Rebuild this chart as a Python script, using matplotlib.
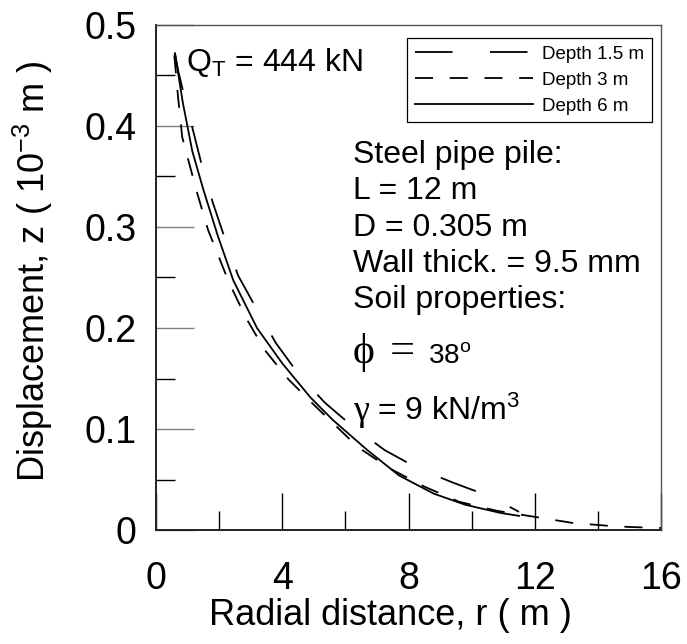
import matplotlib
matplotlib.use('Agg')
import matplotlib.pyplot as plt
from matplotlib.ticker import FixedLocator, FixedFormatter

plt.rcParams['font.family'] = ['Liberation Sans', 'DejaVu Sans']
plt.rcParams['mathtext.fontset'] = 'custom'
plt.rcParams['mathtext.rm'] = 'Liberation Sans'
plt.rcParams['mathtext.it'] = 'Liberation Sans:italic'
plt.rcParams['mathtext.bf'] = 'Liberation Sans:bold'
plt.rcParams['lines.scale_dashes'] = False

# ground displacement z (1e-3 m) vs radial distance r (m), pile head load 444 kN
r_d15 = [0.6, 0.7, 0.86, 1.17, 1.46, 1.8, 2.2, 2.6, 3.2, 3.8, 4.5, 5.35, 6.25,
         7.25, 8.3, 9.4, 10.6, 11.5]
z_d15 = [0.472, 0.455, 0.434, 0.396, 0.36, 0.324, 0.287, 0.252, 0.218, 0.185,
         0.155, 0.126, 0.102, 0.079, 0.061, 0.047, 0.033, 0.018]

r_d3 = [0.58, 0.7, 0.83, 1.0, 1.3, 1.65, 2.3, 2.85, 3.45, 4.2, 5.0, 6.4, 7.4,
        8.5, 9.6, 10.8, 12.0, 13.2, 14.4, 15.0, 16.0]
z_d3 = [0.47, 0.428, 0.389, 0.369, 0.334, 0.297, 0.246, 0.21, 0.178, 0.149,
        0.124, 0.082, 0.061, 0.043, 0.028, 0.019, 0.013, 0.007, 0.004, 0.003,
        0.002]

r_d6 = [0.6, 0.85, 1.15, 1.5, 1.95, 2.45, 3.2, 4.0, 4.9, 5.6, 6.7, 7.7, 8.8,
        9.8, 10.9, 11.5]
z_d6 = [0.472, 0.423, 0.375, 0.337, 0.292, 0.247, 0.2, 0.165, 0.131, 0.109,
        0.079, 0.054, 0.036, 0.025, 0.017, 0.014]

x_major = [0, 4, 8, 12, 16]
x_minor = [2, 6, 10, 14]
y_major = [0, 0.1, 0.2, 0.3, 0.4, 0.5]
y_minor = [0.05, 0.15, 0.25, 0.35, 0.45]
y_labels = ['0', '0.1', '0.2', '0.3', '0.4', '0.5']

pile_info = ['Steel pipe pile:', 'L = 12 m', 'D = 0.305 m',
             'Wall thick. = 9.5 mm', 'Soil properties:']

fig = plt.figure(figsize=(6.87, 6.44), dpi=100)
ax = fig.add_axes([0.2271, 0.177, 0.7351, 0.7842])

ax.plot(r_d15, z_d15, color='k', lw=1.3, dashes=(27, 27), label='Depth 1.5 m')
ax.plot(r_d3, z_d3, color='k', lw=1.3, dashes=(13, 12), label='Depth 3 m')
ax.plot(r_d6, z_d6, color='k', lw=1.3, label='Depth 6 m')

ax.set_xlim(0, 16)
ax.set_ylim(0, 0.5)
ax.xaxis.set_major_locator(FixedLocator(x_major))
ax.xaxis.set_minor_locator(FixedLocator(x_minor))
ax.yaxis.set_major_locator(FixedLocator(y_major))
ax.yaxis.set_minor_locator(FixedLocator(y_minor))
ax.yaxis.set_major_formatter(FixedFormatter(y_labels))

ax.tick_params(which='both', direction='in', width=1, labelsize=27)
ax.tick_params(which='major', length=27)
ax.tick_params(which='minor', length=13.5)
ax.tick_params(axis='x', pad=22)
ax.tick_params(axis='y', pad=14)
ax.tick_params(axis='y', which='major', color='#808080')

for side in ['left', 'bottom']:
    ax.spines[side].set_linewidth(1.4)
    ax.spines[side].set_color('#222222')
for side in ['top', 'right']:
    ax.spines[side].set_linewidth(1.0)
    ax.spines[side].set_color('#555555')

ax.set_xlabel('Radial distance, r ( m )', fontsize=26)
ax.xaxis.set_label_coords(0.465, -0.135)
ax.set_ylabel(r'Displacement, z ( 10$^{\mathregular{-3}}$ m )', fontsize=26)
ax.yaxis.set_label_coords(-0.2, 0.513)

ax.text(0.059, 0.909, r'Q$_\mathregular{T}$ = 444 kN', fontsize=23,
        va='baseline', transform=ax.transAxes)

for i, line in enumerate(pile_info):
    ax.text(0.39, 0.7267 - i * 0.0719, line, fontsize=23, va='baseline',
            transform=ax.transAxes)

# friction angle and unit weight
ax.text(0.39, 0.3307, '\u03d5', fontsize=30, family='Liberation Serif',
        va='baseline', transform=ax.transAxes)
ax.text(0.463, 0.3307, '=', fontsize=32, family='Liberation Serif',
        va='baseline', transform=ax.transAxes)
ax.text(0.5386, 0.3307, r'38$^\mathregular{o}$', fontsize=20, va='baseline',
        transform=ax.transAxes)
ax.text(0.39, 0.2178, '\u03b3', fontsize=26, family='Liberation Serif',
        va='baseline', transform=ax.transAxes)
ax.text(0.4376, 0.2178, r'= 9 kN/m$^\mathregular{3}$', fontsize=23,
        va='baseline', transform=ax.transAxes)

leg = ax.legend(loc='upper right', bbox_to_anchor=(0.982, 0.974),
                borderaxespad=0, fontsize=13.5, handlelength=6.3,
                handletextpad=0.5, labelspacing=0.48, borderpad=0.4,
                fancybox=False, edgecolor='k', framealpha=1)
leg.get_frame().set_linewidth(0.9)

fig.savefig('out.png', dpi=100)
